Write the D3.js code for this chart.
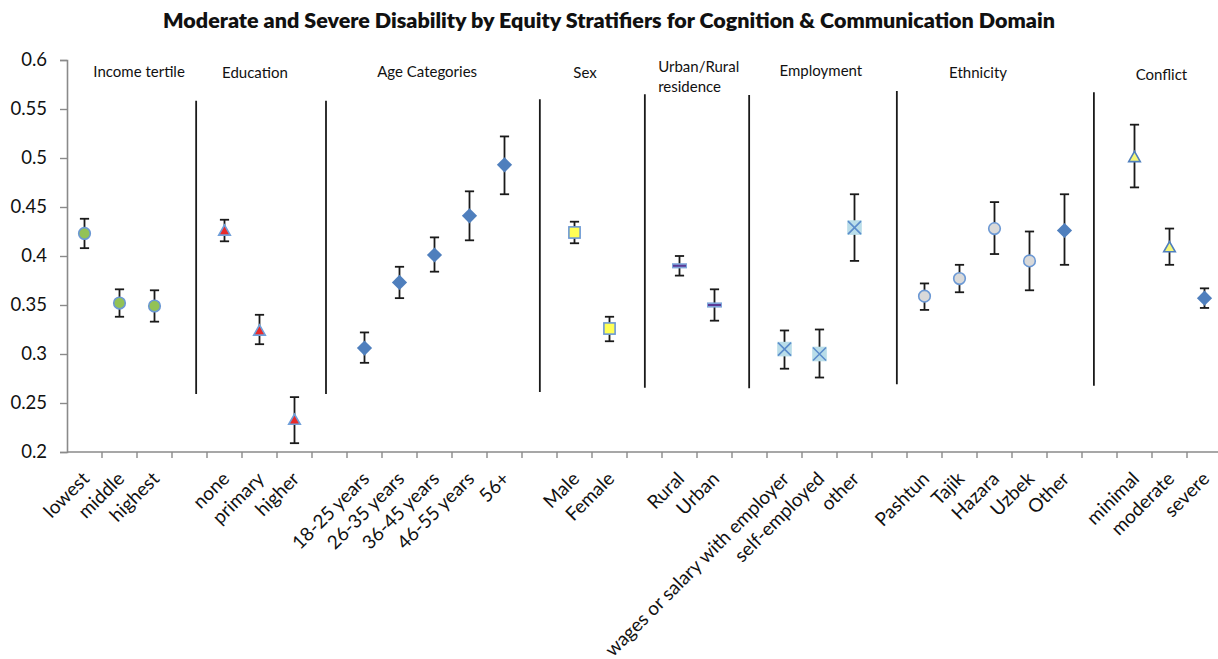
<!DOCTYPE html>
<html>
<head>
<meta charset="utf-8">
<script src="https://cdn.jsdelivr.net/npm/d3@7"></script>
<style>
  html, body { margin: 0; padding: 0; background: #fff; }
  svg { display: block; font-family: Lato, "Open Sans", sans-serif; }
</style>
</head>
<body>
<svg id="chart" width="1218" height="659"></svg>
<script>
// ---- data -------------------------------------------------------------
const title = "Moderate and Severe Disability by Equity Stratifiers for Cognition & Communication Domain";

// one slot per category; empty strings are blank spacer slots between groups
const categories = [
  "lowest", "middle", "highest", "",
  "none", "primary", "higher", "",
  "18-25 years", "26-35 years", "36-45 years", "46-55 years", "56+", "",
  "Male", "Female", "",
  "Rural", "Urban", "",
  "wages or salary with employer", "self-employed", "other", "",
  "Pashtun", "Tajik", "Hazara", "Uzbek", "Other", "",
  "minimal", "moderate", "severe"
];

const estimates = [
  0.423, 0.352, 0.349, null,
  0.426, 0.324, 0.233, null,
  0.306, 0.373, 0.401, 0.441, 0.493, null,
  0.424, 0.326, null,
  0.390, 0.350, null,
  0.305, 0.300, 0.429, null,
  0.359, 0.377, 0.428, 0.395, 0.426, null,
  0.501, 0.409, 0.357
];

const lowerCI = [
  0.408, 0.338, 0.333, null,
  0.415, 0.310, 0.209, null,
  0.291, 0.357, 0.384, 0.416, 0.463, null,
  0.413, 0.313, null,
  0.380, 0.334, null,
  0.285, 0.276, 0.395, null,
  0.345, 0.363, 0.402, 0.365, 0.391, null,
  0.470, 0.391, 0.347
];

const upperCI = [
  0.438, 0.366, 0.365, null,
  0.437, 0.340, 0.256, null,
  0.322, 0.389, 0.419, 0.466, 0.522, null,
  0.435, 0.338, null,
  0.400, 0.366, null,
  0.324, 0.325, 0.463, null,
  0.372, 0.391, 0.455, 0.425, 0.463, null,
  0.534, 0.428, 0.367
];

// which series each category belongs to
const seriesOf = [
  "income", "income", "income", null,
  "education", "education", "education", null,
  "age", "age", "age", "age", "age", null,
  "sex", "sex", null,
  "residence", "residence", null,
  "employment", "employment", "employment", null,
  "ethnicity", "ethnicity", "ethnicity", "ethnicity", "ethnicityOther", null,
  "conflict", "conflict", "conflictSevere"
];

const groupNames = ["Income tertile", "Education", "Age Categories", "Sex",
  "Urban/Rural residence", "Employment", "Ethnicity", "Conflict"];

const yTicks = [0.2, 0.25, 0.3, 0.35, 0.4, 0.45, 0.5, 0.55, 0.6];

// ---- layout -----------------------------------------------------------
const plot = { left: 67, top: 60, bottom: 452, slot: 35 };

const svg = d3.select("#chart");

const x = d3.scaleBand()
  .domain(d3.range(categories.length))
  .range([plot.left, plot.left + plot.slot * categories.length])
  .padding(0);
const y = d3.scaleLinear().domain([0.2, 0.6]).range([plot.bottom, plot.top]);
const bw = x.bandwidth();
const cx = i => x(i) + bw / 2;
// position measured in slots from the left edge of the category axis
const slotX = s => plot.left + s * bw;

// group headings: [slot position, baseline value, anchor]
const groupLabelLayout = [
  [2.06, 0.5828, "middle"],
  [5.37, 0.5813, "middle"],
  [10.29, 0.5828, "middle"],
  [14.8, 0.5813, "middle"],
  [16.89, 0.5875, "start"],
  [21.54, 0.5838, "middle"],
  [26.03, 0.5818, "middle"],
  [31.27, 0.5793, "middle"]
];

// vertical dividers between groups: [slot position, top value, bottom value]
const dividers = [
  [3.69, 0.5585, 0.2592],
  [7.40, 0.5585, 0.2592],
  [13.51, 0.5599, 0.2612],
  [16.51, 0.5650, 0.2656],
  [19.49, 0.5643, 0.2650],
  [23.71, 0.5684, 0.2691],
  [29.34, 0.5670, 0.2677]
];

// ---- title ------------------------------------------------------------
svg.append("text")
  .attr("x", 609).attr("y", 28)
  .attr("text-anchor", "middle")
  .attr("font-weight", 800)
  .attr("font-size", 21.5)
  .attr("fill", "#111")
  .text(title);

// ---- y axis -----------------------------------------------------------
const yAxis = svg.append("g")
  .attr("transform", `translate(${plot.left},0)`)
  .call(d3.axisLeft(y)
    .tickValues(yTicks)
    .tickSize(7)
    .tickPadding(13)
    .tickFormat(d => String(+d.toFixed(2))));
yAxis.select(".domain").attr("stroke", "#8a8a8a").attr("stroke-width", 1.6);
yAxis.selectAll(".tick line").attr("stroke", "#8a8a8a").attr("stroke-width", 1.4);
yAxis.selectAll(".tick text")
  .attr("font-family", "Lato, sans-serif")
  .attr("font-size", 18.5)
  .attr("fill", "#111");

// ---- x axis (ticks at category boundaries) ----------------------------
const xAxis = svg.append("g");
const xEnd = x.range()[1];
xAxis.append("line")
  .attr("x1", plot.left).attr("x2", xEnd)
  .attr("y1", y(0.2)).attr("y2", y(0.2))
  .attr("stroke", "#8a8a8a").attr("stroke-width", 1.6);
const boundaries = d3.range(1, categories.length + 1);
xAxis.selectAll("line.tick")
  .data(boundaries)
  .join("line")
  .attr("class", "tick")
  .attr("x1", i => i < categories.length ? x(i) : xEnd)
  .attr("x2", i => i < categories.length ? x(i) : xEnd)
  .attr("y1", y(0.2)).attr("y2", y(0.2) + 6)
  .attr("stroke", "#8a8a8a").attr("stroke-width", 1.4);

xAxis.selectAll("text.cat")
  .data(categories.map((c, i) => ({ c, i })).filter(d => d.c !== ""))
  .join("text")
  .attr("class", "cat")
  .attr("text-anchor", "end")
  .attr("font-size", 19)
  .attr("fill", "#111")
  .attr("transform", d => `translate(${cx(d.i) + 6},${y(0.2) + 28}) rotate(-45)`)
  .text(d => d.c);

// ---- dividers & group headings ---------------------------------------
svg.append("g").selectAll("line")
  .data(dividers)
  .join("line")
  .attr("x1", d => slotX(d[0])).attr("x2", d => slotX(d[0]))
  .attr("y1", d => y(d[1])).attr("y2", d => y(d[2]))
  .attr("stroke", "#1a1a1a").attr("stroke-width", 1.8);

const headings = svg.append("g")
  .attr("font-size", 15)
  .attr("fill", "#111");
groupNames.forEach((name, k) => {
  const [s, v, anchor] = groupLabelLayout[k];
  const t = headings.append("text")
    .attr("x", slotX(s)).attr("y", y(v))
    .attr("text-anchor", anchor);
  if (name === "Urban/Rural residence") {
    t.append("tspan").attr("x", slotX(s)).text("Urban/Rural");
    t.append("tspan").attr("x", slotX(s)).attr("dy", 20).text("residence");
  } else {
    t.text(name);
  }
});

// ---- error bars ---------------------------------------------------------
const points = categories.map((c, i) => ({
  i, c, v: estimates[i], lo: lowerCI[i], hi: upperCI[i], s: seriesOf[i]
})).filter(d => d.v != null);

const err = svg.append("g")
  .attr("stroke", "#1a1a1a").attr("stroke-width", 1.8);
const capHalf = 4.6;
points.forEach(d => {
  const px = cx(d.i);
  err.append("line").attr("x1", px).attr("x2", px).attr("y1", y(d.hi)).attr("y2", y(d.lo));
  err.append("line").attr("x1", px - capHalf).attr("x2", px + capHalf).attr("y1", y(d.hi)).attr("y2", y(d.hi));
  err.append("line").attr("x1", px - capHalf).attr("x2", px + capHalf).attr("y1", y(d.lo)).attr("y2", y(d.lo));
});

// ---- markers ------------------------------------------------------------
const markerStyle = {
  income:         { kind: "circle",   fill: "#93c255", stroke: "#6b98d4" },
  education:      { kind: "triangle", fill: "#e82a2a", stroke: "#6f9fda" },
  age:            { kind: "diamond",  fill: "#4f7fbd", stroke: "none" },
  sex:            { kind: "square",   fill: "#ffff55", stroke: "#6b98d4" },
  residence:      { kind: "dash",     fill: "#5a3a96", stroke: "#7fa6da" },
  employment:     { kind: "xbox",     fill: "#b9dde9", stroke: "#5b8ccb" },
  ethnicity:      { kind: "circle",   fill: "#d9d9d9", stroke: "#6b98d4" },
  ethnicityOther: { kind: "diamond",  fill: "#4f7fbd", stroke: "none" },
  conflict:       { kind: "triangle", fill: "#f5f77a", stroke: "#4f7fbd" },
  conflictSevere: { kind: "diamond",  fill: "#4f7fbd", stroke: "none" }
};

const marks = svg.append("g");
points.forEach(d => {
  const st = markerStyle[d.s];
  const g = marks.append("g").attr("transform", `translate(${cx(d.i)},${y(d.v)})`);
  if (st.kind === "circle") {
    g.append("circle").attr("r", 5.8)
      .attr("fill", st.fill).attr("stroke", st.stroke).attr("stroke-width", 1.6);
  } else if (st.kind === "triangle") {
    g.append("path").attr("d", "M0,-5.6L5.8,4.6L-5.8,4.6Z")
      .attr("fill", st.fill).attr("stroke", st.stroke).attr("stroke-width", 1.6)
      .attr("stroke-linejoin", "miter");
  } else if (st.kind === "diamond") {
    g.append("path").attr("d", "M0,-7.6L7.6,0L0,7.6L-7.6,0Z").attr("fill", st.fill);
  } else if (st.kind === "square") {
    g.append("rect").attr("x", -5.6).attr("y", -5.6).attr("width", 11.2).attr("height", 11.2)
      .attr("fill", st.fill).attr("stroke", st.stroke).attr("stroke-width", 1.6);
  } else if (st.kind === "dash") {
    g.append("rect").attr("x", -7.5).attr("y", -2.6).attr("width", 15).attr("height", 5.2)
      .attr("fill", st.stroke);
    g.append("line").attr("x1", -6.5).attr("x2", 6.5).attr("y1", 0).attr("y2", 0)
      .attr("stroke", st.fill).attr("stroke-width", 2);
  } else if (st.kind === "xbox") {
    g.append("rect").attr("x", -7.3).attr("y", -7.3).attr("width", 14.6).attr("height", 14.6)
      .attr("fill", st.fill);
    g.append("path").attr("d", "M-6.5,-6.5L6.5,6.5M6.5,-6.5L-6.5,6.5")
      .attr("stroke", st.stroke).attr("stroke-width", 1.6).attr("fill", "none");
  }
});
</script>
</body>
</html>
